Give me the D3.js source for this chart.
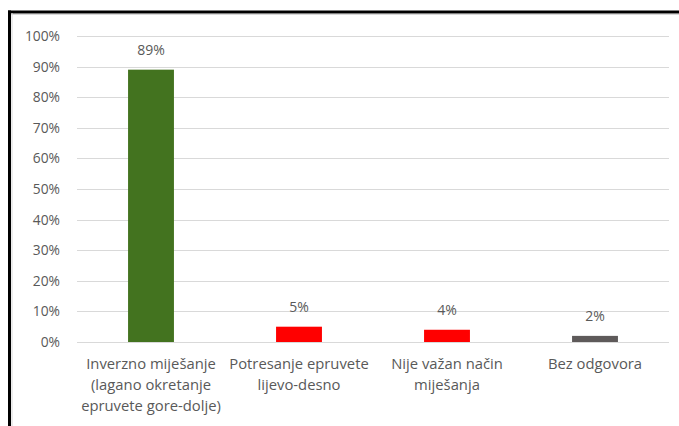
<!DOCTYPE html>
<html>
<head>
<meta charset="utf-8">
<script src="https://cdn.jsdelivr.net/npm/d3@7"></script>
<style>
  html, body { margin: 0; padding: 0; background: #fff; }
  svg { display: block; }
  text { font-family: "Open Sans", Lato, sans-serif; fill: #595959; }
</style>
</head>
<body>
<script>
'use strict';

const categories = [
  ['Inverzno miješanje', '(lagano okretanje', 'epruvete gore-dolje)'],
  ['Potresanje epruvete', 'lijevo-desno'],
  ['Nije važan način', 'miješanja'],
  ['Bez odgovora']
];
const values = [0.89, 0.05, 0.04, 0.02];
const barColors = ['#43731f', '#ff0000', '#ff0000', '#5e5a5a'];
const yTicks = [0, 0.1, 0.2, 0.3, 0.4, 0.5, 0.6, 0.7, 0.8, 0.9, 1.0];

const width = 679;
const height = 426;
const margin = { top: 36, right: 10, bottom: 84, left: 77 };
const plotW = 669 - margin.left;
const plotH = 342 - margin.top;

const svg = d3.select('body').append('svg')
  .attr('width', width)
  .attr('height', height);

// frame of the pasted chart
svg.append('line')
  .attr('x1', 8).attr('x2', width).attr('y1', 12).attr('y2', 12)
  .attr('stroke', '#000').attr('stroke-width', 3);
svg.append('line')
  .attr('x1', 8).attr('x2', width).attr('y1', 14.5).attr('y2', 14.5)
  .attr('stroke', '#d9d9d9').attr('stroke-width', 1);
svg.append('line')
  .attr('x1', 9.5).attr('x2', 9.5).attr('y1', 10.5).attr('y2', height)
  .attr('stroke', '#000').attr('stroke-width', 3);
svg.append('line')
  .attr('x1', 12).attr('x2', 12).attr('y1', 13).attr('y2', height)
  .attr('stroke', '#d9d9d9').attr('stroke-width', 1);

const g = svg.append('g')
  .attr('transform', `translate(${margin.left},${margin.top})`);

const x = d3.scaleBand()
  .domain(d3.range(categories.length))
  .range([0, plotW])
  .paddingInner(0.69)
  .paddingOuter(0.345);

const y = d3.scaleLinear()
  .domain([0, 1])
  .range([plotH, 0]);

// gridlines
g.selectAll('.grid')
  .data(yTicks)
  .enter().append('line')
  .attr('class', 'grid')
  .attr('x1', 0).attr('x2', plotW)
  .attr('y1', (d) => Math.round(y(d)) + 0.5)
  .attr('y2', (d) => Math.round(y(d)) + 0.5)
  .attr('stroke', '#d9d9d9')
  .attr('stroke-width', 1);

// y axis labels
const yAxis = d3.axisLeft(y)
  .tickValues(yTicks)
  .tickFormat(d3.format('.0%'))
  .tickSize(0)
  .tickPadding(17);
g.append('g').call(yAxis)
  .call((s) => s.select('.domain').remove())
  .selectAll('text')
  .style('font-size', '13.8px')
  .style('font-family', '"Open Sans", sans-serif')
  .attr('fill', '#595959');

// bars
g.selectAll('.bar')
  .data(values)
  .enter().append('rect')
  .attr('class', 'bar')
  .attr('x', (d, i) => x(i))
  .attr('y', (d) => y(d))
  .attr('width', x.bandwidth())
  .attr('height', (d) => plotH - y(d))
  .attr('fill', (d, i) => barColors[i]);

// value labels
g.selectAll('.val')
  .data(values)
  .enter().append('text')
  .attr('class', 'val')
  .attr('x', (d, i) => x(i) + x.bandwidth() / 2)
  .attr('y', (d) => y(d) - 15)
  .attr('text-anchor', 'middle')
  .style('font-size', '14px')
  .text((d) => d3.format('.0%')(d));

// category labels
const cat = g.selectAll('.cat')
  .data(categories)
  .enter().append('text')
  .attr('class', 'cat')
  .attr('text-anchor', 'middle')
  .style('font-size', '14.8px')
  .attr('transform', (d, i) => `translate(${x(i) + x.bandwidth() / 2},${plotH + 27})`);

cat.selectAll('tspan')
  .data((d) => d)
  .enter().append('tspan')
  .attr('x', 0)
  .attr('y', (d, i) => i * 21)
  .text((d) => d);
</script>
</body>
</html>
